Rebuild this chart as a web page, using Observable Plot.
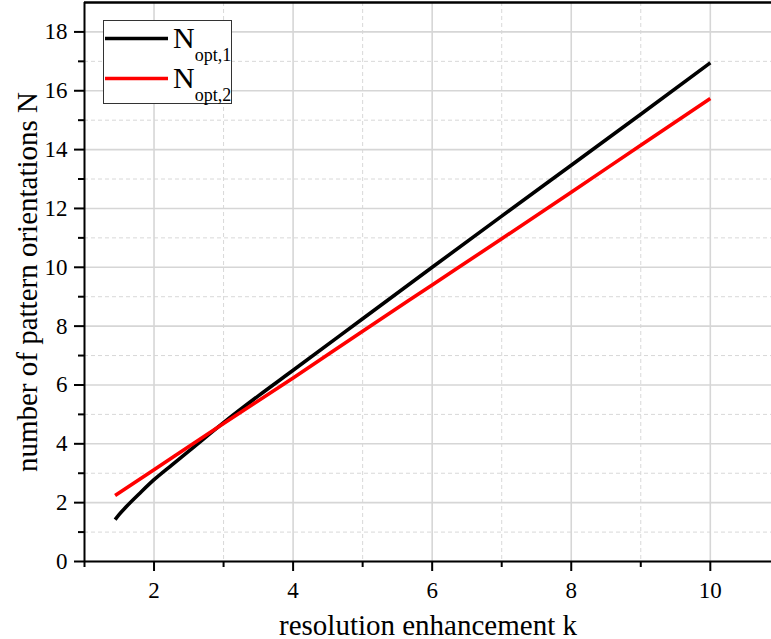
<!DOCTYPE html>
<html>
<head>
<meta charset="utf-8">
<script src="https://cdn.jsdelivr.net/npm/d3@7"></script>
<script src="https://cdn.jsdelivr.net/npm/@observablehq/plot@0.6"></script>
<style>
  body { margin: 0; background: #fff; }
  #chart svg { display: block; }
  #chart svg text { font-family: 'Liberation Serif', 'Times New Roman', serif; }
</style>
</head>
<body>
<div id="chart"></div>
<script>
// ---- data ----
const kValues1 = [1.44, 1.5, 1.6, 1.8, 2, 2.25, 2.5, 3, 3.5, 4, 5, 6, 7, 8, 9, 10];
const nOpt1    = [1.42, 1.6, 1.86, 2.33, 2.78, 3.27, 3.75, 4.72, 5.63, 6.5, 8.25, 10.0, 11.74, 13.47, 15.2, 16.95];
const kValues2 = [1.44, 2, 3, 4, 5, 6, 7, 8, 9, 10];
const nOpt2    = [2.24, 3.12, 4.69, 6.24, 7.83, 9.4, 10.97, 12.55, 14.15, 15.74];
const seriesMain = ["N", "N"];
const seriesSub  = ["opt,1", "opt,2"];
const seriesColors = ["#000000", "#ff0000"];
const xMajorTicks = [2, 4, 6, 8, 10];
const xMinorTicks = [1, 3, 5, 7, 9];
const yMajorTicks = [0, 2, 4, 6, 8, 10, 12, 14, 16, 18];
const yMinorTicks = [1, 3, 5, 7, 9, 11, 13, 15, 17];
const xDomain = [1, 10.88];
const yDomain = [0, 19];
const xLabel = "resolution enhancement k";
const yLabel = "number of pattern orientations N";

const data = [
  ...kValues1.map((k, i) => ({k, n: nOpt1[i], s: seriesSub[0]})),
  ...kValues2.map((k, i) => ({k, n: nOpt2[i], s: seriesSub[1]}))
];

const serif = "Liberation Serif";

const chart = Plot.plot({
  width: 771,
  height: 639,
  marginLeft: 84,
  marginRight: 0,
  marginTop: 2,
  marginBottom: 78,
  style: {fontFamily: serif, fontSize: "22px", background: "#fff", color: "#000", overflow: "visible"},
  x: {domain: xDomain, label: null},
  y: {domain: yDomain, label: null},
  color: {domain: seriesSub, range: seriesColors},
  marks: [
    Plot.gridX(xMinorTicks, {stroke: "#d8d8d8", strokeOpacity: 1, strokeWidth: 1, strokeDasharray: "4,3"}),
    Plot.gridY(yMinorTicks, {stroke: "#d8d8d8", strokeOpacity: 1, strokeWidth: 1, strokeDasharray: "4,3"}),
    Plot.gridX(xMajorTicks, {stroke: "#d6d6d6", strokeOpacity: 1, strokeWidth: 1.6}),
    Plot.gridY(yMajorTicks, {stroke: "#d6d6d6", strokeOpacity: 1, strokeWidth: 1.6}),
    Plot.line(data, {x: "k", y: "n", z: "s", stroke: "s", strokeWidth: 3.6, curve: "monotone-x", strokeLinecap: "butt"}),
    Plot.ruleY([yDomain[0]], {stroke: "#000", strokeWidth: 2}),
    Plot.ruleY([yDomain[1]], {stroke: "#000", strokeWidth: 2.5}),
    Plot.ruleX([xDomain[0]], {stroke: "#000", strokeWidth: 2}),
    Plot.axisX({ticks: xMinorTicks, tickSize: 6, strokeWidth: 2, stroke: "#000", label: null, text: null}),
    Plot.axisY({ticks: yMinorTicks, tickSize: 6, strokeWidth: 2, stroke: "#000", label: null, text: null}),
    Plot.axisX({ticks: xMajorTicks, tickSize: 10, tickPadding: 10, strokeWidth: 2, stroke: "#000", fill: "#000", fontSize: 23, fontFamily: serif, label: null, tickFormat: d => String(d)}),
    Plot.axisY({ticks: yMajorTicks, tickSize: 10, tickPadding: 7, strokeWidth: 2, stroke: "#000", fill: "#000", fontSize: 23, fontFamily: serif, label: null, tickFormat: d => String(d)}),
    Plot.text([xLabel], {frameAnchor: "bottom", dy: 73, lineAnchor: "bottom", textAnchor: "middle", fontSize: 29, fontFamily: serif, fill: "#000"}),
    Plot.text([yLabel], {frameAnchor: "left", dx: -57, rotate: -90, lineAnchor: "middle", textAnchor: "middle", fontSize: 29, fontFamily: serif, fill: "#000"})
  ]
});

document.getElementById("chart").appendChild(chart);

// enforce tick label font on every axis text
d3.select(chart).selectAll('g[aria-label$="tick label"] text')
  .style("font-size", "23px")
  .style("font-family", "'Liberation Serif', serif");

// ---- legend inside the plot (top-left) ----
const svg = d3.select(chart);
const lg = svg.append("g")
  .attr("font-family", serif).attr("fill", "#000").attr("text-anchor", "start");
lg.append("rect")
  .attr("x", 103.5).attr("y", 20.5).attr("width", 128).attr("height", 83)
  .attr("fill", "#fff").attr("stroke", "#333").attr("stroke-width", 1);
seriesSub.forEach((sub, i) => {
  const ly = 38.5 + i * 40;
  lg.append("line")
    .attr("x1", 105).attr("x2", 168).attr("y1", ly).attr("y2", ly)
    .attr("stroke", seriesColors[i]).attr("stroke-width", 3.6);
  const t = lg.append("text")
    .attr("x", 173).attr("y", ly + 9)
    .attr("font-size", 30).attr("text-anchor", "start");
  t.append("tspan").text(seriesMain[i]);
  t.append("tspan").attr("dy", 13).attr("font-size", 18).text(sub);
});
</script>
</body>
</html>
